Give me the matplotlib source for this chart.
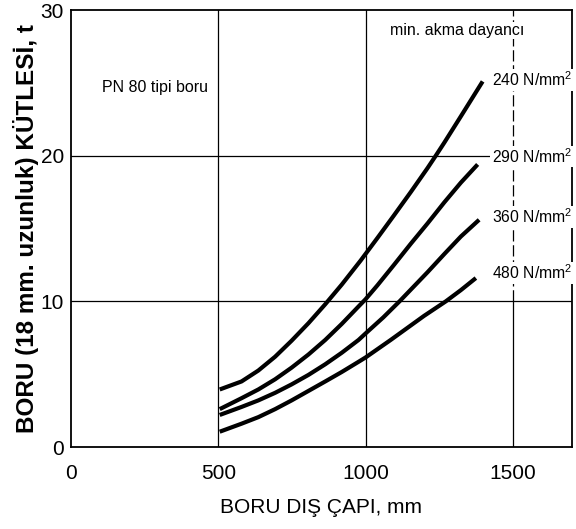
import matplotlib.pyplot as plt

plt.rcParams['font.family'] = ['Liberation Sans', 'DejaVu Sans']
plt.rcParams['mathtext.fontset'] = 'custom'
plt.rcParams['mathtext.rm'] = 'Liberation Sans'

# curve data: outer diameter (mm) vs mass (t)
x_240 = [505, 579, 636, 693, 749, 806, 863, 919, 983, 1040, 1096, 1153, 1210, 1238, 1267, 1323, 1397]
y_240 = [3.95, 4.5, 5.25, 6.2, 7.3, 8.5, 9.8, 11.15, 12.8, 14.35, 15.9, 17.5, 19.15, 20.0, 20.9, 22.7, 25.1]

x_290 = [505, 579, 636, 693, 749, 806, 863, 919, 976, 1000, 1040, 1096, 1153, 1210, 1267, 1323, 1380]
y_290 = [2.6, 3.35, 3.95, 4.65, 5.45, 6.35, 7.35, 8.45, 9.65, 10.15, 11.1, 12.5, 13.95, 15.35, 16.8, 18.15, 19.4]

x_360 = [505, 579, 636, 693, 749, 806, 863, 919, 976, 1000, 1060, 1115, 1153, 1210, 1267, 1323, 1385]
y_360 = [2.2, 2.75, 3.2, 3.72, 4.3, 4.95, 5.68, 6.47, 7.35, 7.8, 8.9, 10.0, 10.8, 12.0, 13.25, 14.45, 15.6]

x_480 = [505, 579, 636, 693, 749, 806, 863, 919, 976, 1000, 1085, 1198, 1272, 1323, 1374]
y_480 = [1.05, 1.6, 2.05, 2.6, 3.2, 3.85, 4.5, 5.15, 5.85, 6.15, 7.35, 9.0, 10.0, 10.77, 11.6]

labels = ["240 N/mm$^2$", "290 N/mm$^2$", "360 N/mm$^2$", "480 N/mm$^2$"]
label_y = [25.2, 19.95, 15.8, 11.95]
x_ticks = [0, 500, 1000, 1500]
y_ticks = [0, 10, 20, 30]

fig = plt.figure(figsize=(5.76, 5.29), dpi=100)
ax = fig.add_axes([0.123, 0.155, 0.870, 0.826])

# grid lines
for gx in [500, 1000]:
    ax.axvline(gx, color='black', lw=0.9, zorder=1)
for gy in [10, 20]:
    ax.axhline(gy, color='black', lw=0.9, zorder=1)
ax.plot([1500, 1500], [0, 10], color='black', lw=0.9, zorder=1)
ax.plot([1500, 1500], [10, 30], color='black', lw=0.9, ls=(0, (9, 3)), zorder=1)

for xs, ys in [(x_240, y_240), (x_290, y_290), (x_360, y_360), (x_480, y_480)]:
    ax.plot(xs, ys, color='black', lw=3.0, solid_capstyle='butt', zorder=3)

for lab, ly in zip(labels, label_y):
    ax.text(1428, ly, lab, fontsize=11.3, va='center', ha='left', zorder=4, clip_on=False,
            bbox=dict(facecolor='white', edgecolor='none', pad=1.0))

ax.text(1310, 28.6, "min. akma dayancı", fontsize=11.5, ha='center', va='center',
        zorder=4, bbox=dict(facecolor='white', edgecolor='none', pad=1.0))
ax.text(285, 24.7, "PN 80 tipi boru", fontsize=11.5, ha='center', va='center')

ax.set_xlim(0, 1700)
ax.set_ylim(0, 30)
ax.set_xticks(x_ticks)
ax.set_yticks(y_ticks)
ax.tick_params(length=0, labelsize=15)
ax.tick_params(axis='x', pad=12)
ax.tick_params(axis='y', pad=5)
for s in ax.spines.values():
    s.set_linewidth(1.3)

ax.set_xlabel("BORU DIŞ ÇAPI, mm", fontsize=15, labelpad=11)
ax.set_ylabel("BORU (18 mm. uzunluk) KÜTLESİ, t", fontsize=17.5, fontweight='bold', labelpad=1)

fig.savefig("out.png", dpi=100)
